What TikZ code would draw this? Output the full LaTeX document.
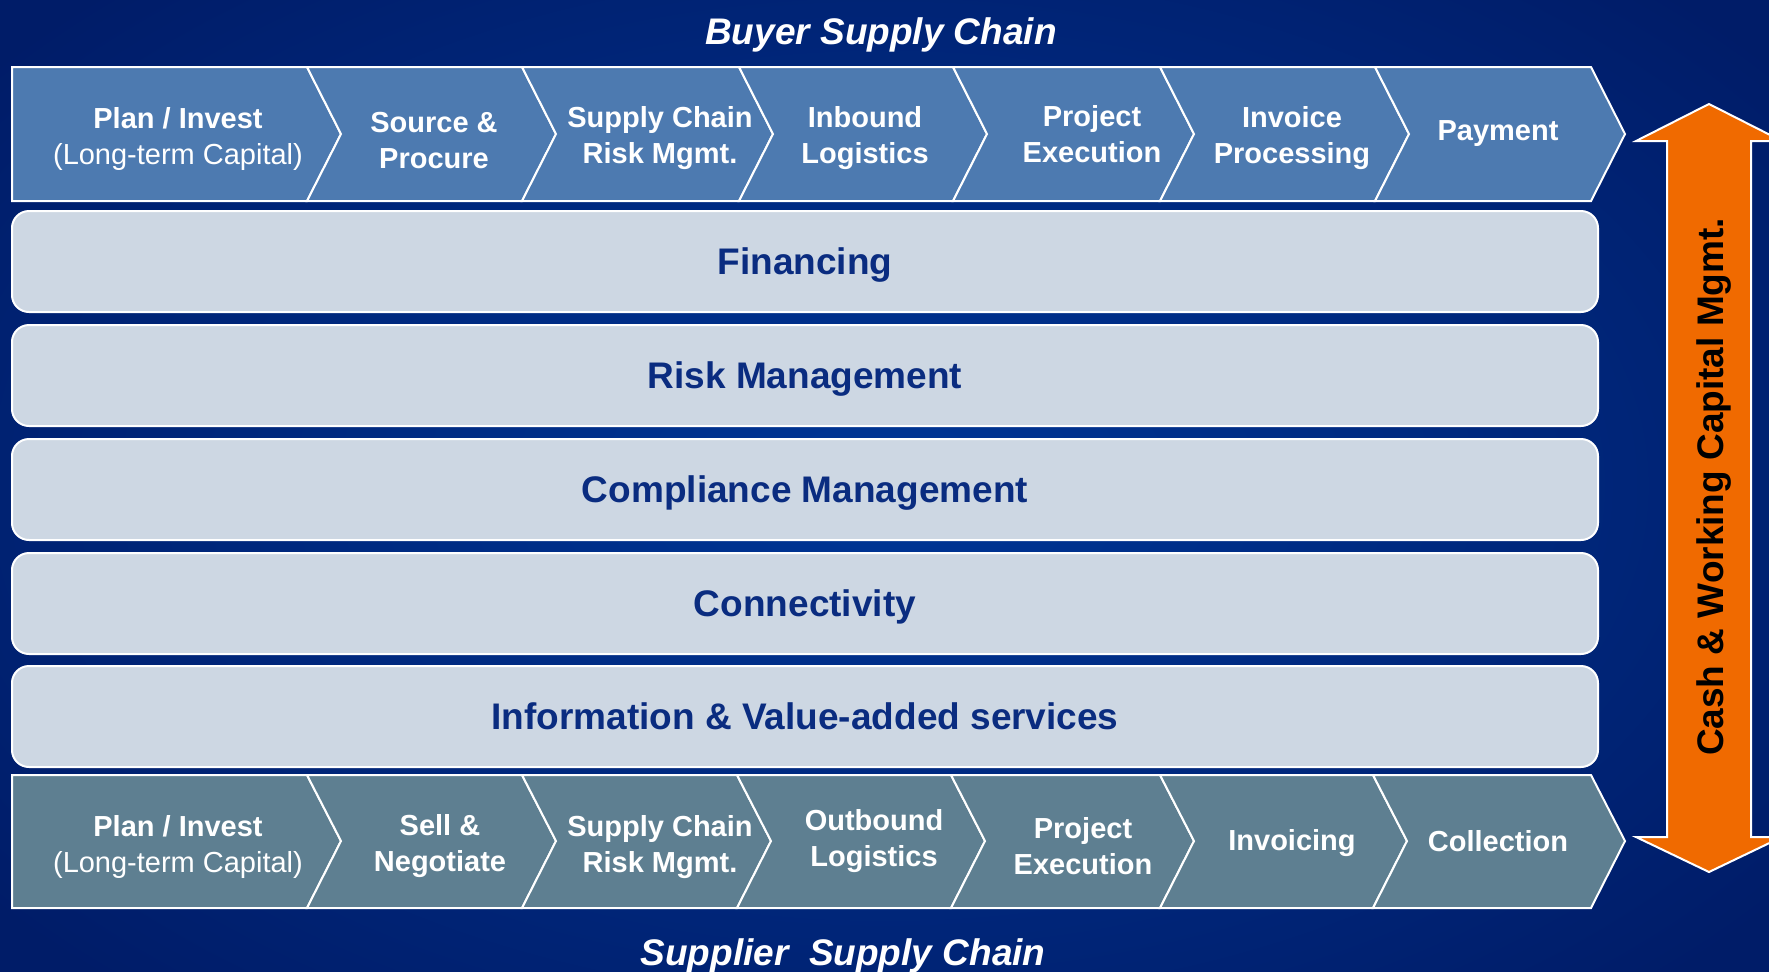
\documentclass[tikz,border=0pt]{standalone}
\usepackage{fontspec}
\setmainfont{Liberation Sans}
\usetikzlibrary{positioning}

\definecolor{buyerblue}{RGB}{77,122,176}
\definecolor{supplierslate}{RGB}{94,127,145}
\definecolor{layergrey}{RGB}{205,215,227}
\definecolor{layertext}{RGB}{10,44,128}
\definecolor{cashorange}{RGB}{240,106,0}
\definecolor{bgdeep}{RGB}{0,28,104}
\definecolor{bgmid}{RGB}{0,54,150}

\begin{document}
\begin{tikzpicture}[
  x=0.5pt, y=-0.5pt,
  bchev/.style={draw=white, line width=1pt, fill=buyerblue},
  schev/.style={bchev, fill=supplierslate},
  clbl/.style={text=white, align=center, inner sep=0pt, yshift=-1.6pt,
    font=\fontsize{14.5}{18}\selectfont\bfseries},
  layer/.style={draw=white, line width=1pt, fill=layergrey, rounded corners=8.5pt,
    minimum width=793pt, minimum height=50.5pt, inner sep=0pt, text=layertext,
    text depth=0pt, font=\fontsize{18.5}{22}\selectfont\bfseries},
  chaintitle/.style={text=white, yshift=-2.4pt,
    font=\fontsize{18.5}{22}\selectfont\bfseries\itshape},
]
  % Background
  \useasboundingbox (0,0) rectangle (1769,971);
  \shade[inner color=bgmid, outer color=bgdeep] (-250,-200) rectangle (2019,1171);

  \node[chaintitle] (buyer) at (881,30) {Buyer Supply Chain};

  % Buyer chain (top row)
  \draw[bchev] (12,67) -- (307,67) -- (341,134) -- (307,201) -- (12,201) -- cycle;
  \draw[bchev] (307,67) -- (522,67) -- (556,134) -- (522,201) -- (307,201) -- (341,134) -- cycle;
  \draw[bchev] (522,67) -- (739,67) -- (773,134) -- (739,201) -- (522,201) -- (556,134) -- cycle;
  \draw[bchev] (739,67) -- (953,67) -- (987,134) -- (953,201) -- (739,201) -- (773,134) -- cycle;
  \draw[bchev] (953,67) -- (1160,67) -- (1194,134) -- (1160,201) -- (953,201) -- (987,134) -- cycle;
  \draw[bchev] (1160,67) -- (1375,67) -- (1409,134) -- (1375,201) -- (1160,201) -- (1194,134) -- cycle;
  \draw[bchev] (1375,67) -- (1591,67) -- (1625,134) -- (1591,201) -- (1375,201) -- (1409,134) -- cycle;

  \node[clbl] (bplan) at (178,136) {Plan / Invest\\\mdseries(Long-term Capital)};
  \node[clbl] (bsrc)  at (434,137) {Source \&\\Procure};
  \node[clbl] (brisk) at (660,135) {Supply Chain\\Risk Mgmt.};
  \node[clbl] (blog)  at (865,135) {Inbound\\Logistics};
  \node[clbl] (bproj) at (1092,131) {Project\\Execution};
  \node[clbl] (binv)  at (1292,135) {Invoice\\Processing};
  \node[clbl] (bpay)  at (1498,130) {Payment};

  % Service layers
  \node[layer] (fin)  at (805,261.5) {Financing};
  \node[layer] (risk) at (805,375.5) {Risk Management};
  \node[layer] (comp) at (805,489.5) {Compliance Management};
  \node[layer] (conn) at (805,603.5) {Connectivity};
  \node[layer] (info) at (805,716.5) {Information \& Value-added services};

  % Supplier chain (bottom row)
  \draw[schev] (12,775) -- (307,775) -- (341,841) -- (307,908) -- (12,908) -- cycle;
  \draw[schev] (307,775) -- (522,775) -- (556,841) -- (522,908) -- (307,908) -- (341,841) -- cycle;
  \draw[schev] (522,775) -- (737,775) -- (771,841) -- (737,908) -- (522,908) -- (556,841) -- cycle;
  \draw[schev] (737,775) -- (951,775) -- (985,841) -- (951,908) -- (737,908) -- (771,841) -- cycle;
  \draw[schev] (951,775) -- (1160,775) -- (1194,841) -- (1160,908) -- (951,908) -- (985,841) -- cycle;
  \draw[schev] (1160,775) -- (1373,775) -- (1407,841) -- (1373,908) -- (1160,908) -- (1194,841) -- cycle;
  \draw[schev] (1373,775) -- (1591,775) -- (1625,841) -- (1591,908) -- (1373,908) -- (1407,841) -- cycle;

  \node[clbl] (splan) at (178,844) {Plan / Invest\\\mdseries(Long-term Capital)};
  \node[clbl] (ssell) at (440,843) {Sell \&\\Negotiate};
  \node[clbl] (srisk) at (660,844) {Supply Chain\\Risk Mgmt.};
  \node[clbl] (slog)  at (874,838) {Outbound\\Logistics};
  \node[clbl] (sproj) at (1083,843) {Project\\Execution};
  \node[clbl] (sinv)  at (1292,840) {Invoicing};
  \node[clbl] (scol)  at (1498,838) {Collection};

  \node[chaintitle] (supplier) at (843,951) {Supplier\ \ Supply Chain};

  % Two-headed cash arrow
  \draw[draw=white, line width=1pt, fill=cashorange]
    (1709,104) -- (1782,141) -- (1751,141) -- (1751,837) -- (1782,837) -- (1709,872)
    -- (1636,837) -- (1667,837) -- (1667,141) -- (1636,141) -- cycle;
  \node[rotate=90, text=black, font=\fontsize{18.5}{22}\selectfont\bfseries]
    (cash) at (1714,487) {Cash \& Working Capital Mgmt.};
\end{tikzpicture}
\end{document}
